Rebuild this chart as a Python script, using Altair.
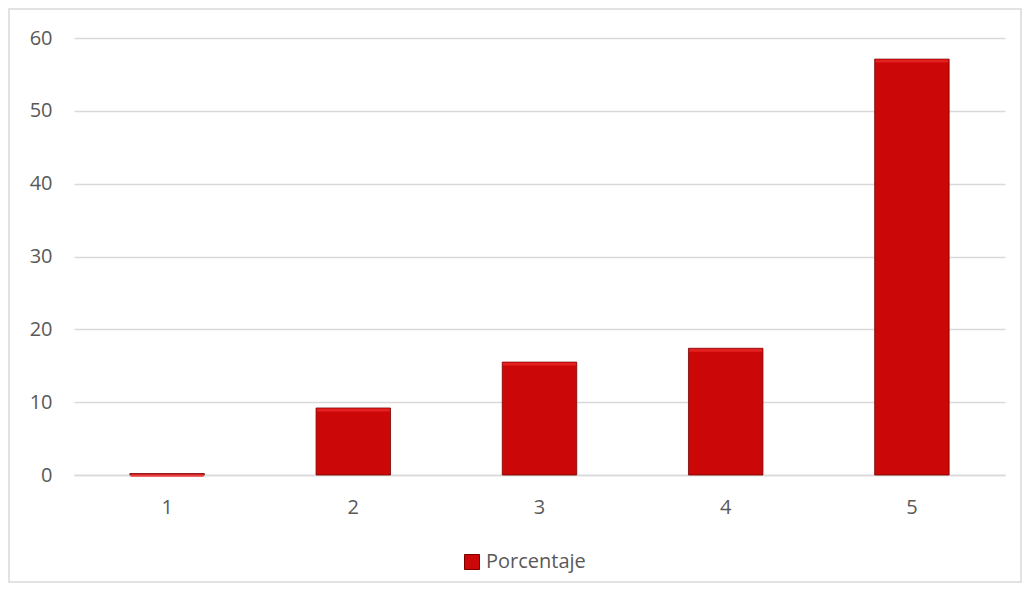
import altair as alt
import pandas as pd

categories = ["1", "2", "3", "4", "5"]
values = [0.2, 9.2, 15.5, 17.4, 57.1]
series_name = "Porcentaje"

df = pd.DataFrame({"cat": categories, "val": values, "serie": [series_name] * len(categories)})

W, H = 931, 437
FONT = "Open Sans"
GRID = "#D9D9D9"
TXT = "#595959"
RED = "#CC0707"
FS = 20

x_enc = alt.X("cat:N", sort=categories, title=None,
              scale=alt.Scale(paddingInner=0.6, paddingOuter=0.3),
              axis=alt.Axis(labelAngle=0, ticks=False, domain=True, domainColor=GRID,
                            domainWidth=1.3, labelFont=FONT, labelFontSize=FS,
                            labelColor=TXT, labelPadding=22, grid=False))
y_enc = alt.Y("val:Q", title=None,
              scale=alt.Scale(domain=[0, 60], nice=False),
              axis=alt.Axis(values=[0, 10, 20, 30, 40, 50, 60], ticks=False, domain=False,
                            gridColor=GRID, gridWidth=1.3, labelFont=FONT, labelFontSize=FS,
                            labelColor=TXT, labelPadding=22))

bars = alt.Chart(df).mark_bar(stroke="#7A0000", strokeWidth=0.8).encode(
    x=x_enc,
    y=y_enc,
    color=alt.Color("serie:N", scale=alt.Scale(range=[RED]),
                    legend=alt.Legend(title=None, orient="none", legendX=388, legendY=514,
                                      symbolType="square", symbolSize=225,
                                      symbolStrokeColor="#7A0000", symbolStrokeWidth=1,
                                      labelFont=FONT, labelFontSize=FS, labelColor=TXT,
                                      labelOffset=4)),
)

tops = alt.Chart(df).mark_tick(color="#EE2B2B", thickness=3, size=73, yOffset=2).encode(
    x=alt.X("cat:N", sort=categories),
    y=alt.Y("val:Q"),
)

frame_df = pd.DataFrame({"a": [0]})
frame = alt.Chart(frame_df).mark_rect(fill=None, stroke=GRID, strokeWidth=1.5, clip=False).encode(
    x=alt.value(-65), x2=alt.value(947), y=alt.value(-29), y2=alt.value(544)
)

chart = alt.layer(frame, bars, tops).properties(
    width=W, height=H,
    autosize=alt.AutoSizeParams(type="none"),
    padding={"left": 66, "top": 30, "right": 18, "bottom": 109},
).configure(background="white").configure_view(stroke=None)

chart.save("out.html", embed_options={"renderer": "svg", "actions": False})
